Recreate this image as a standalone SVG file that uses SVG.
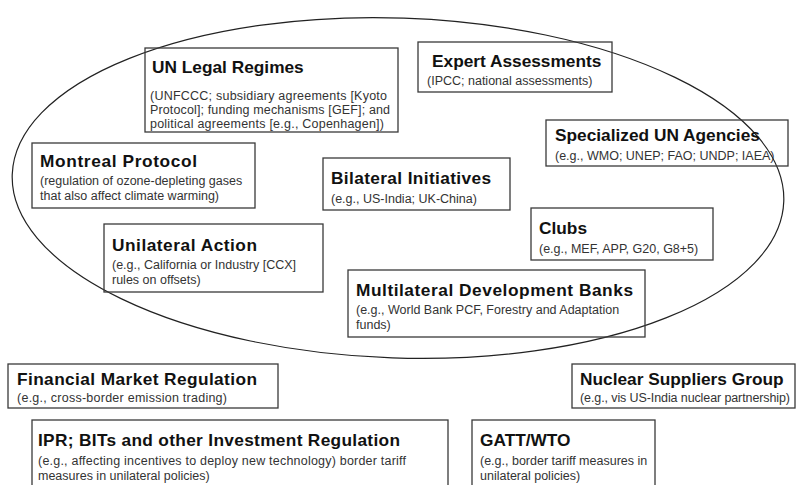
<svg xmlns="http://www.w3.org/2000/svg" width="797" height="485" viewBox="0 0 797 485">
<style>
.box{fill:none;stroke:#3a3a3a;stroke-width:1.3}
.t{font-family:"Liberation Sans",Arial,sans-serif;font-weight:bold;font-size:17.3px;fill:#111}
.s{font-family:"Liberation Sans",Arial,sans-serif;font-size:12.5px;fill:#333}
</style>
<rect width="797" height="485" fill="#fff"/>
<g id="regime-complex">
<ellipse cx="398" cy="188" rx="386" ry="170" transform="rotate(2 398 188)" fill="none" stroke="#222" stroke-width="1.2"/>
</g>
<g id="un-legal">
<rect class="box" x="145" y="48" width="253" height="84"/>
<text class="t" x="152" y="73">UN Legal Regimes</text>
<text class="s" x="150" y="100" textLength="237">(UNFCCC; subsidiary agreements [Kyoto</text>
<text class="s" x="150" y="114" textLength="240">Protocol]; funding mechanisms [GEF]; and</text>
<text class="s" x="150" y="128" textLength="234">political agreements [e.g., Copenhagen])</text>
</g>
<g id="expert">
<rect class="box" x="418" y="42" width="194" height="50"/>
<text class="t" x="432" y="67">Expert Assessments</text>
<text class="s" x="427" y="85">(IPCC; national assessments)</text>
</g>
<g id="specialized">
<rect class="box" x="546" y="120" width="242" height="46"/>
<text class="t" x="555" y="141">Specialized UN Agencies</text>
<text class="s" x="555" y="160">(e.g., WMO; UNEP; FAO; UNDP; IAEA)</text>
</g>
<g id="montreal">
<rect class="box" x="32" y="143" width="223" height="65"/>
<text class="t" x="40" y="167" textLength="157">Montreal Protocol</text>
<text class="s" x="40" y="185">(regulation of ozone-depleting gases</text>
<text class="s" x="40" y="200">that also affect climate warming)</text>
</g>
<g id="bilateral">
<rect class="box" x="323" y="158" width="187" height="52"/>
<text class="t" x="331" y="184" textLength="160">Bilateral Initiatives</text>
<text class="s" x="331" y="203">(e.g., US-India; UK-China)</text>
</g>
<g id="clubs">
<rect class="box" x="531" y="208" width="182" height="52"/>
<text class="t" x="539" y="234">Clubs</text>
<text class="s" x="539" y="253">(e.g., MEF, APP, G20, G8+5)</text>
</g>
<g id="unilateral">
<rect class="box" x="104" y="224" width="219" height="68"/>
<text class="t" x="112" y="251" textLength="145">Unilateral Action</text>
<text class="s" x="112" y="269">(e.g., California or Industry [CCX]</text>
<text class="s" x="112" y="284">rules on offsets)</text>
</g>
<g id="mdb">
<rect class="box" x="348" y="270" width="297" height="67"/>
<text class="t" x="356" y="296" textLength="277">Multilateral Development Banks</text>
<text class="s" x="356" y="314">(e.g., World Bank PCF, Forestry and Adaptation</text>
<text class="s" x="356" y="329">funds)</text>
</g>
<g id="financial">
<rect class="box" x="8" y="364" width="270" height="44"/>
<text class="t" x="17" y="385" textLength="240">Financial Market Regulation</text>
<text class="s" x="17" y="402" textLength="210">(e.g., cross-border emission trading)</text>
</g>
<g id="nuclear">
<rect class="box" x="572" y="364" width="223" height="44"/>
<text class="t" x="580" y="385">Nuclear Suppliers Group</text>
<text class="s" x="580" y="402" textLength="210">(e.g., vis US-India nuclear partnership)</text>
</g>
<g id="ipr">
<rect class="box" x="32" y="420" width="416" height="66"/>
<text class="t" x="38" y="446" textLength="362">IPR; BITs and other Investment Regulation</text>
<text class="s" x="38" y="465" textLength="368">(e.g., affecting incentives to deploy new technology) border tariff</text>
<text class="s" x="38" y="480">measures in unilateral policies)</text>
</g>
<g id="gatt">
<rect class="box" x="472" y="420" width="183" height="66"/>
<text class="t" x="480" y="446">GATT/WTO</text>
<text class="s" x="480" y="465">(e.g., border tariff measures in</text>
<text class="s" x="480" y="480">unilateral policies)</text>
</g>
</svg>
